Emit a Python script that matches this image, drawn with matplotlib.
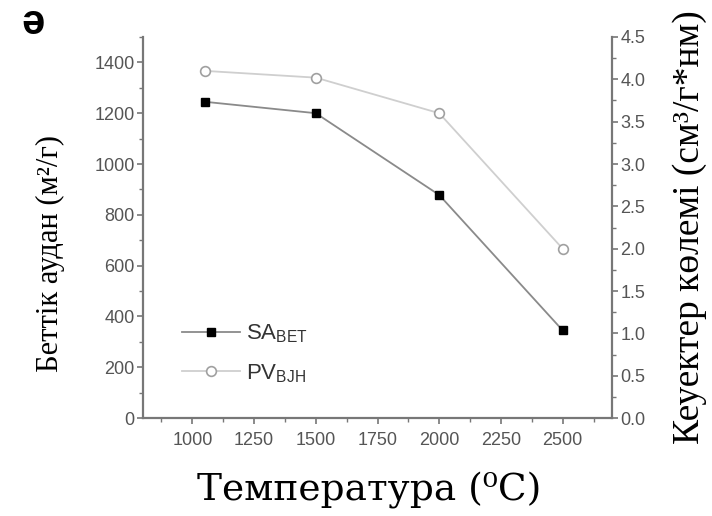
import matplotlib
matplotlib.use("Agg")
import matplotlib.pyplot as plt
from matplotlib.ticker import MultipleLocator

# Carbonization temperature vs. surface area and pore volume
temperature = [1050, 1500, 2000, 2500]
sa_bet = [1245, 1200, 878, 345]        # m²/g
pv_bjh = [4.1, 4.02, 3.6, 2.0]         # cm³/g*nm

x_ticks = [1000, 1250, 1500, 1750, 2000, 2250, 2500]
left_ticks = [0, 200, 400, 600, 800, 1000, 1200, 1400]
right_ticks = [0.0, 0.5, 1.0, 1.5, 2.0, 2.5, 3.0, 3.5, 4.0, 4.5]

plt.rcParams["font.family"] = ["Liberation Sans", "DejaVu Sans"]
plt.rcParams["mathtext.fontset"] = "custom"
plt.rcParams["mathtext.rm"] = "Liberation Sans"

tick_color = "#555555"
spine_color = "#777777"
serif = ["Liberation Serif", "DejaVu Serif"]

fig = plt.figure(figsize=(7.12, 5.16), dpi=100)
ax = fig.add_axes([0.2008, 0.1899, 0.6588, 0.7384])
ax2 = ax.twinx()

l1, = ax.plot(temperature, sa_bet, color="#8a8a8a", lw=1.3, marker="s",
              ms=6, mfc="black", mec="black", label=r"SA$_{\mathrm{BET}}$")
l2, = ax2.plot(temperature, pv_bjh, color="#cfcfcf", lw=1.3, marker="o",
               ms=7, mfc="white", mec="#a0a0a0", mew=1.2,
               label=r"PV$_{\mathrm{BJH}}$")

ax.set_xlim(800, 2700)
ax.set_ylim(0, 1500)
ax2.set_ylim(0, 4.5)

ax.set_xticks(x_ticks)
ax.set_yticks(left_ticks)
ax2.set_yticks(right_ticks)
ax.xaxis.set_minor_locator(MultipleLocator(125))
ax.yaxis.set_minor_locator(MultipleLocator(100))
ax2.yaxis.set_minor_locator(MultipleLocator(0.25))
ax2.set_yticklabels([f"{v:.1f}" for v in right_ticks])

for a in (ax, ax2):
    a.spines["top"].set_visible(False)
    for s in a.spines.values():
        s.set_color(spine_color)
        s.set_linewidth(1.6)
    a.tick_params(which="major", direction="out", length=4, width=1.2,
                  color=spine_color, labelcolor=tick_color, labelsize=13,
                  pad=2)
    a.tick_params(which="minor", direction="out", length=3, width=1.0,
                  color=spine_color)
ax2.spines["left"].set_visible(False)
ax2.spines["bottom"].set_visible(False)
ax.spines["right"].set_visible(False)
ax.tick_params(axis="x", pad=6)

ax.set_ylabel("Беттік аудан (м²/г)", family=serif, fontsize=22)
ax.yaxis.set_label_coords(-0.166, 0.433)
ax2.set_ylabel("Кеуектер көлемі (см³/г*нм)", family=serif, fontsize=27)
ax2.yaxis.set_label_coords(1.128, 0.50)
ax.set_xlabel("Температура (⁰C)", family=["DejaVu Serif"], fontsize=27)
ax.xaxis.set_label_coords(0.482, -0.142)

leg = ax.legend(handles=[l1, l2], loc="lower left",
                bbox_to_anchor=(0.04, 0.035), frameon=False, fontsize=16,
                handlelength=2.6, labelspacing=0.75, handletextpad=0.3)
for t in leg.get_texts():
    t.set_color("#333333")

fig.text(0.03, 0.935, "ə", family=["Liberation Sans", "DejaVu Sans"],
         fontsize=30, fontweight="bold")

fig.savefig("out.png", dpi=100)
